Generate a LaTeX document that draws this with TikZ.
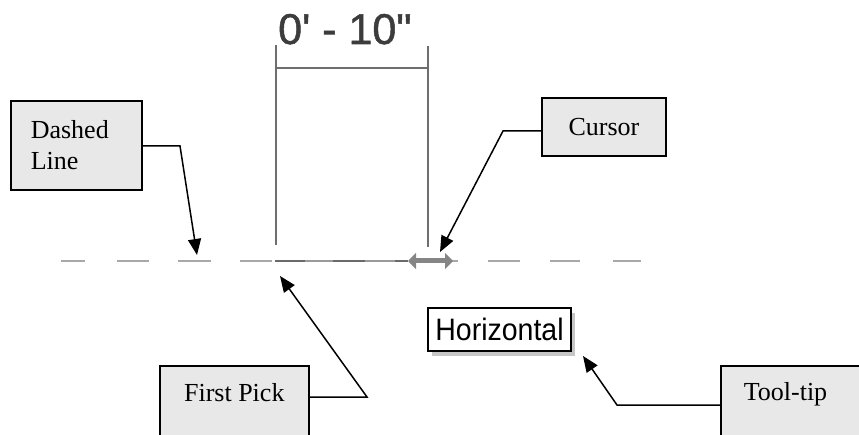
\documentclass[tikz,border=0pt]{standalone}
\usepackage{fontspec}
\setmainfont{Liberation Serif}
\newfontfamily\dimfont[Ligatures=ResetAll,FakeBold=1.2]{Liberation Sans}
\newfontfamily\tipfont[FakeStretch=0.92]{Liberation Sans}
\usetikzlibrary{arrows.meta,shadows}
\definecolor{boxfill}{HTML}{E8E8E8}
\definecolor{dimgray}{HTML}{6E6E6E}
\definecolor{dimtext}{HTML}{3C3C3C}
\definecolor{dashgray}{HTML}{A8A8A8}
\definecolor{darkseg}{HTML}{6A6A6A}
\definecolor{midseg}{HTML}{9A9A9A}
\definecolor{cursorgray}{HTML}{858585}
\tikzset{
  callout/.style={draw=black, line width=1.6pt, fill=boxfill, inner sep=0pt,
    font=\fontsize{26}{31}\selectfont},
  ptr/.style={draw=black, line width=1.5pt, -{Triangle[length=16pt,width=13pt]}},
  dimline/.style={draw=dimgray, line width=1.6pt},
  dashseg/.style={draw=dashgray, line width=2.5pt},
}
\begin{document}
\begin{tikzpicture}[x=1pt,y=-1pt]
\useasboundingbox (0,0) rectangle (859,435);
\clip (0,0) rectangle (859,435);

% dimension
\node[anchor=base west, font=\dimfont\fontsize{43}{43}\selectfont, text=dimtext, inner sep=0pt] (dim) at (278,44) {0' - 10"};
\draw[dimline] (276,45) -- (276,245);
\draw[dimline] (428,46) -- (428,247);
\draw[dimline] (276,68) -- (428,68);

% dashed line
\draw[dashseg] (61,261) -- (85,261);
\draw[dashseg] (117,261) -- (149,261);
\draw[dashseg] (178,261) -- (211,261);
\draw[dashseg] (240,261) -- (272,261);
\draw[dashseg] (488,261) -- (520,261);
\draw[dashseg] (550,261) -- (580,261);
\draw[dashseg] (613,261) -- (641,261);
\draw[dashseg] (452,261) -- (458,261);
% solid part between first pick and cursor
\draw[draw=darkseg, line width=2.5pt] (275,261) -- (305,261);
\draw[draw=midseg, line width=2.5pt] (305,261) -- (333,261);
\draw[draw=darkseg, line width=2.5pt] (333,261) -- (365,261);
\draw[draw=midseg, line width=2.5pt] (365,261) -- (395,261);
\draw[draw=darkseg, line width=2.5pt] (395,261) -- (408,261);
% cursor icon
\draw[draw=cursorgray, fill=cursorgray, line width=5pt,
  {Triangle[length=8pt,width=16pt]}-{Triangle[length=8pt,width=16pt]}] (408,261) -- (453,261);

% callout boxes
\node[callout, anchor=north west, text width=91pt, inner xsep=20pt, minimum height=89pt, align=left] (dl) at (10,100) {Dashed\\Line};
\node[callout, minimum width=124pt, minimum height=58pt] (cur) at (604,127) {Cursor};
\node[callout, anchor=north west, minimum width=149pt, inner ysep=18pt, text height=18pt, text depth=26pt] (fp) at (159,365) {First Pick};
\node[callout, anchor=north west, text width=100pt, align=left, inner xsep=23pt, inner ysep=17pt, text height=18pt, text depth=26pt] (tt) at (720,365) {Tool-tip};

% tooltip
\node[draw=black, line width=1.5pt, fill=white, minimum width=143pt, minimum height=43pt, inner sep=0pt,
  font=\tipfont\fontsize{31}{31}\selectfont,
  drop shadow={shadow xshift=4pt, shadow yshift=-5pt, opacity=0.45}] (hz) at (499.5,329.5) {Horizontal};

% connectors
\coordinate (dlbend) at (180,146);
\coordinate (dltip) at (197,255);
\draw[ptr] (dl.east |- dlbend) -- (dlbend) -- (dltip);

\coordinate (curbend) at (503,131);
\coordinate (curtip) at (440,252);
\draw[ptr] (cur.west |- curbend) -- (curbend) -- (curtip);

\coordinate (fpbend) at (367,397);
\coordinate (fptip) at (280,276);
\draw[ptr] (fp.east |- fpbend) -- (fpbend) -- (fptip);

\coordinate (ttbend) at (617,405);
\coordinate (tttip) at (583,356);
\draw[ptr] (tt.west |- ttbend) -- (ttbend) -- (tttip);
\end{tikzpicture}
\end{document}
